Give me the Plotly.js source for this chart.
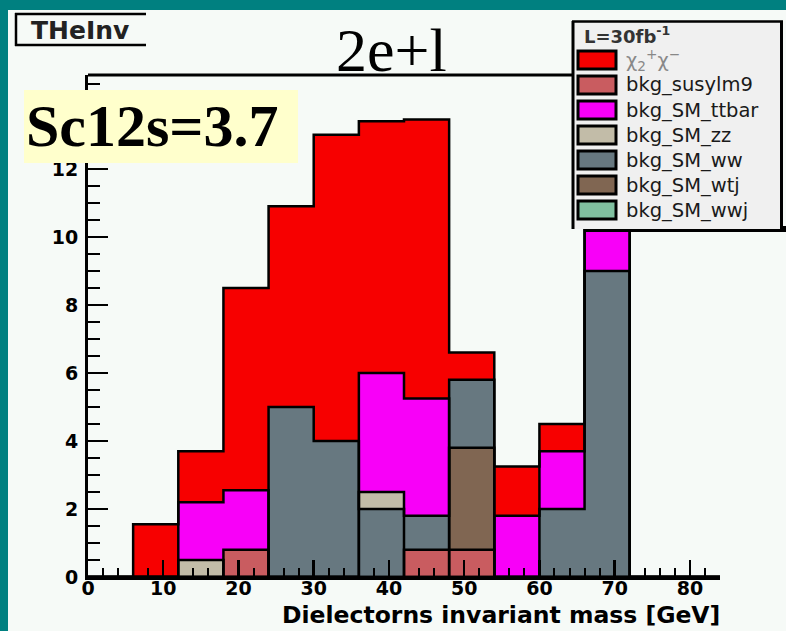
<!DOCTYPE html>
<html><head><meta charset="utf-8">
<script src="https://cdn.plot.ly/plotly-3.0.1.min.js"></script>
<style>html,body{margin:0;padding:0;background:#f6faf7;}#chart{width:786px;height:631px;}</style>
</head><body><div id="chart"></div>
<script>
// ---- data ----
const binEdges   = [0, 6, 12, 18, 24, 30, 36, 42, 48, 54, 60, 66, 72, 78, 84];
const binCenters = [3, 9, 15, 21, 27, 33, 39, 45, 51, 57, 63, 69, 75, 81];
// heights of each histogram per bin (drawn overlaid, in draw order)
const signal = [0, 1.55, 3.7, 8.5, 10.9, 13.0, 13.4, 13.45, 6.6, 3.25, 4.5, 14.0, 0, 0];
const ttbar  = [0, 0, 2.2, 2.55, 0, 0, 6.0, 5.25, 0, 1.8, 3.7, 10.6, 0, 0];
const zz     = [0, 0, 0.5, 0, 0, 0, 2.5, 0, 0, 0, 0, 0, 0, 0];
const ww     = [0, 0, 0, 0, 5.0, 4.0, 2.0, 1.8, 5.8, 0, 2.0, 9.0, 0, 0];
const wtj    = [0, 0, 0, 0, 0, 0, 0, 0, 3.8, 0, 0, 0, 0, 0];
const susy   = [0, 0, 0, 0.8, 0, 0, 0, 0.8, 0.8, 0, 0, 0, 0, 0];
const wwj    = [0, 0, 0, 0, 0, 0, 0, 0, 0, 0, 0, 0, 0, 0];

const legendNames  = ["χ<sub>2</sub><sup>+</sup>χ<sup>−</sup>", "bkg_susylm9", "bkg_SM_ttbar", "bkg_SM_zz", "bkg_SM_ww", "bkg_SM_wtj", "bkg_SM_wwj"];
const legendColors = ["#f70000", "#c95c60", "#f800f8", "#c2bca8", "#677880", "#806652", "#80c0a0"];
const legendSeries = [signal, susy, ttbar, zz, ww, wtj, wwj];
const drawOrder    = [0, 2, 3, 4, 5, 1, 6];

const xTickVals = [0, 10, 20, 30, 40, 50, 60, 70, 80];
const yTickVals = [0, 2, 4, 6, 8, 10, 12];

const headerText = "L=30fb<sup>-1</sup>";
const titleText  = "2e+l";
const boxText    = "Sc12s=3.7";
const histName   = "THeInv";
const xTitle     = "Dielectorns invariant mass [GeV]";

// ---- geometry helpers (pixel -> paper) ----
const W = 786, H = 631, ML = 88, MR = 66, MT = 75, MB = 54;
const PW = W - ML - MR, PH = H - MT - MB;
const X = px => (px - ML) / PW;
const Y = py => (H - MB - py) / PH;

const traces = [];
drawOrder.forEach(i => {
  traces.push({
    type: 'bar', x: binCenters, y: legendSeries[i], width: 6,
    marker: {color: legendColors[i], line: {width: 0}},
    hoverinfo: 'skip', showlegend: false
  });
});
drawOrder.forEach(i => {
  const v = legendSeries[i];
  if (v.every(a => a === 0)) return;
  traces.push({
    type: 'scatter', mode: 'lines', x: binEdges, y: v.concat([v[v.length - 1]]),
    line: {shape: 'hv', color: '#000', width: 2.5},
    hoverinfo: 'skip', showlegend: false
  });
});

const shapes = [];
const annotations = [];
const line = (x0, y0, x1, y1, w) => shapes.push({type: 'line', xref: 'paper', yref: 'paper',
  x0: X(x0), y0: Y(y0), x1: X(x1), y1: Y(y1), line: {color: '#000', width: w}, layer: 'above'});
const rect = (x0, y0, x1, y1, fill, lw) => shapes.push({type: 'rect', xref: 'paper', yref: 'paper',
  x0: X(x0), y0: Y(y0), x1: X(x1), y1: Y(y1), fillcolor: fill,
  line: {color: '#000', width: lw || 0}, layer: 'above'});

// teal canvas border
rect(0, 0, W, 10, '#008080');
rect(0, 0, 8, H, '#008080');
// frame top line
line(88, 75, 720, 75, 3);
// THeInv box (top, left, bottom lines)
line(15, 14, 146, 14, 2.5);
line(16, 13, 16, 46, 2.5);
line(15, 45, 146, 45, 2.5);
annotations.push({xref: 'paper', yref: 'paper', x: X(29), y: Y(30), xanchor: 'left', yanchor: 'middle',
  text: histName, showarrow: false, font: {family: 'DejaVu Sans', size: 25, weight: 'bold', color: '#222'}});
// title
annotations.push({xref: 'paper', yref: 'paper', x: X(391), y: Y(50), xanchor: 'center', yanchor: 'middle',
  text: titleText, showarrow: false, font: {family: 'Liberation Serif', size: 62, color: '#000'}});
// yellow box
rect(24, 90, 298, 163, '#ffffcc');
annotations.push({xref: 'paper', yref: 'paper', x: X(24), y: Y(126), xanchor: 'left', yanchor: 'middle',
  text: boxText, showarrow: false, font: {family: 'Liberation Serif', size: 60, weight: 'bold', color: '#000'}});

// legend box
rect(585, 226, 786, 232, '#000');        // shadow bottom
rect(572, 21, 783, 229, '#f0f0f0');
line(572, 21.5, 783, 21.5, 2.5);
line(573, 21, 573, 229, 3);
line(781.5, 21, 781.5, 229, 3);
annotations.push({xref: 'paper', yref: 'paper', x: X(582), y: Y(35), xanchor: 'left', yanchor: 'middle',
  text: headerText, showarrow: false, font: {family: 'DejaVu Sans', size: 18, weight: 'bold', color: '#333'}});
legendNames.forEach((name, k) => {
  const cy = 60 + k * 25;
  rect(578, cy - 9, 616, cy + 9, legendColors[k], 3);
  annotations.push({xref: 'paper', yref: 'paper', x: X(624), y: Y(cy), xanchor: 'left', yanchor: 'middle',
    text: name, showarrow: false,
    font: {family: 'DejaVu Sans', size: 19.5, color: k === 0 ? '#888' : '#1a1a1a'}});
});

// x-axis title
annotations.push({xref: 'paper', yref: 'paper', x: X(722), y: Y(615), xanchor: 'right', yanchor: 'middle',
  text: xTitle, showarrow: false, font: {family: 'DejaVu Sans', size: 23.5, weight: 'bold', color: '#000'}});

const axisFont = {family: 'DejaVu Sans', size: 19, weight: 'bold', color: '#000'};
const layout = {
  width: W, height: H,
  margin: {l: ML, r: MR, t: MT, b: MB, pad: 0},
  paper_bgcolor: '#f6faf7', plot_bgcolor: '#f6faf7',
  barmode: 'overlay', bargap: 0,
  showlegend: false,
  xaxis: {range: [0, 84], tickmode: 'array', tickvals: xTickVals, ticks: 'inside', ticklen: 17, tickwidth: 2.5, tickcolor: '#000',
    showline: true, linewidth: 3, linecolor: '#000', showgrid: false, zeroline: false,
    tickfont: axisFont, ticklabelstandoff: -8,
    minor: {dtick: 2, ticks: 'inside', ticklen: 9, tickwidth: 2, tickcolor: '#000', showgrid: false}},
  yaxis: {range: [0, 14.76], tickmode: 'array', tickvals: yTickVals, ticks: 'inside', ticklen: 20, tickwidth: 2.5, tickcolor: '#000',
    showline: true, linewidth: 3, linecolor: '#000', showgrid: false, zeroline: false,
    tickfont: axisFont, ticklabelstandoff: 3,
    minor: {dtick: 0.5, ticks: 'inside', ticklen: 12, tickwidth: 2, tickcolor: '#000', showgrid: false}},
  shapes: shapes, annotations: annotations
};
Plotly.newPlot('chart', traces, layout, {displayModeBar: false, staticPlot: true});
</script></body></html>
